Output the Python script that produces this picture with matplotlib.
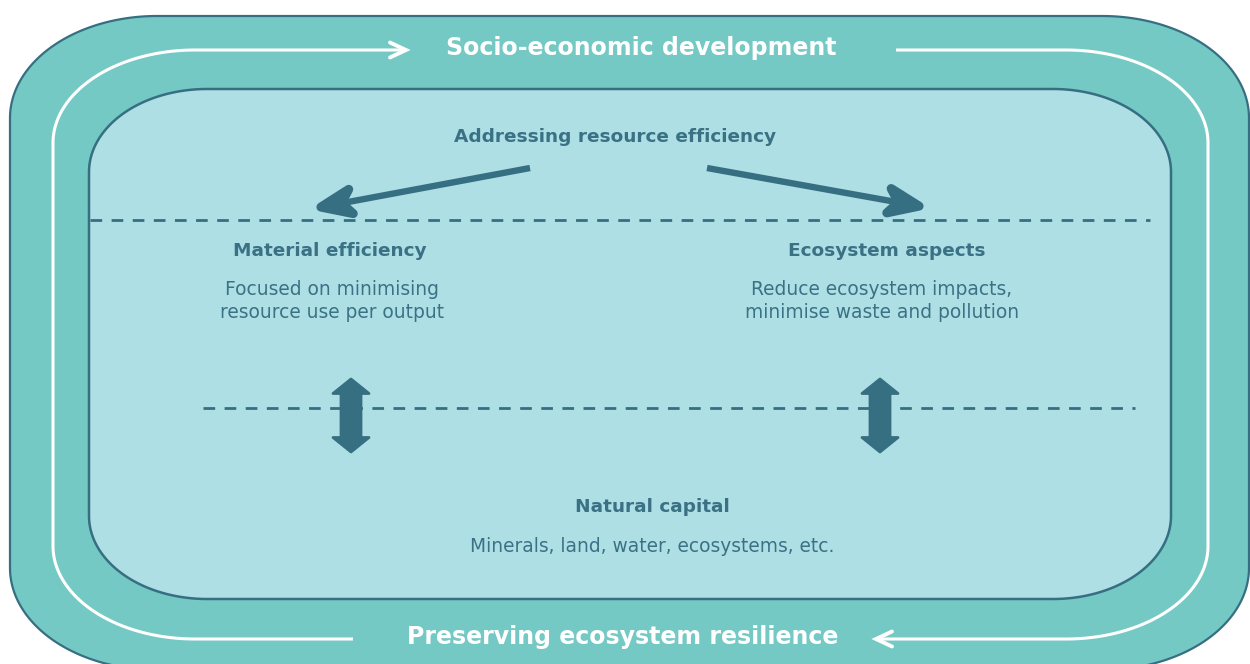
import numpy as np
import matplotlib.pyplot as plt
from matplotlib.patches import Polygon

# colours
OUTER = '#74c9c5'
INNER = '#aedfe5'
DARK = '#376f82'
TEXT = '#3a7184'

# texts of the diagram
flow_labels = ['Socio-economic development', 'Preserving ecosystem resilience']
top_label = 'Addressing resource efficiency'
branch_titles = ['Material efficiency', 'Ecosystem aspects']
branch_texts = ['Focused on minimising\nresource use per output',
                'Reduce ecosystem impacts,\nminimise waste and pollution']
base_title = 'Natural capital'
base_text = 'Minerals, land, water, ecosystems, etc.'


def corner_arcs(L, T, R, B, rx, ry, n=60):
    # four elliptic corners, clockwise on screen (y axis points down)
    s = np.linspace(0, np.pi / 2, n)
    tr = np.c_[R - rx + rx * np.sin(s), T + ry - ry * np.cos(s)]
    br = np.c_[R - rx + rx * np.cos(s), B - ry + ry * np.sin(s)]
    bl = np.c_[L + rx - rx * np.sin(s), B - ry + ry * np.cos(s)]
    tl = np.c_[L + rx - rx * np.cos(s), T + ry - ry * np.sin(s)]
    return tr, br, bl, tl


def rotate(v, deg):
    a = np.radians(deg)
    c, s = np.cos(a), np.sin(a)
    return np.array([c * v[0] - s * v[1], s * v[0] + c * v[1]])


def thick_arrow(ax, start, tip):
    start = np.asarray(start, float)
    tip = np.asarray(tip, float)
    u = (tip - start) / np.hypot(*(tip - start))
    back = -u
    t = tip + back * 5  # stroke sticks out past the polygon corner
    ax.plot([start[0], t[0] + back[0] * 15], [start[1], t[1] + back[1] * 15],
            color=DARK, lw=4.6, solid_capstyle='butt', zorder=5)
    head = [t, t + 33 * rotate(back, 22), t + 21 * back, t + 33 * rotate(back, -22)]
    ax.add_patch(Polygon(head, closed=True, facecolor=DARK, edgecolor=DARK,
                         lw=6.5, joinstyle='round', zorder=6))


def double_arrow(ax, x, top, bottom):
    hw, sw, hh = 18, 10, 14.5
    top, bottom = top + 1, bottom - 1
    pts = [(x, top), (x + hw, top + hh), (x + sw, top + hh),
           (x + sw, bottom - hh), (x + hw, bottom - hh), (x, bottom),
           (x - hw, bottom - hh), (x - sw, bottom - hh), (x - sw, top + hh),
           (x - hw, top + hh)]
    ax.add_patch(Polygon(pts, closed=True, facecolor=DARK, edgecolor=DARK,
                         lw=2, joinstyle='round', zorder=6))


fig = plt.figure(figsize=(12.5, 6.64), dpi=100)
ax = fig.add_axes([0, 0, 1, 1])
ax.set_xlim(0, 1250)
ax.set_ylim(664, 0)
ax.axis('off')

# outer band
outer = np.vstack(corner_arcs(10, 16, 1249, 670, 147, 102))
ax.add_patch(Polygon(outer, closed=True, facecolor=OUTER, edgecolor=DARK,
                     lw=1.6, zorder=1))

# inner panel
inner = np.vstack(corner_arcs(89, 89, 1171, 599, 118, 83))
ax.add_patch(Polygon(inner, closed=True, facecolor=INNER, edgecolor=DARK,
                     lw=1.8, zorder=2))

# white circulation line with two arrow heads
tr, br, bl, tl = corner_arcs(53, 50, 1208, 639, 142, 93)
right_part = np.vstack([[[896, 50]], tr, br, [[877, 639]]])
left_part = np.vstack([[[353, 639]], bl, tl, [[405, 50]]])
for part in (right_part, left_part):
    ax.plot(part[:, 0], part[:, 1], color='white', lw=2.2,
            solid_capstyle='butt', zorder=3)
ax.plot([390, 406, 390], [42.5, 50, 57.5], color='white', lw=2.8,
        solid_capstyle='round', solid_joinstyle='miter', zorder=3)
ax.plot([892, 876, 892], [631.5, 639, 646.5], color='white', lw=2.8,
        solid_capstyle='round', solid_joinstyle='miter', zorder=3)

# dashed separators
ax.plot([90, 1150], [220, 220], color=DARK, lw=2.0, ls=(0, (4.2, 3.4)), zorder=4)
ax.plot([203, 1135], [408, 408], color=DARK, lw=2.0, ls=(0, (4.2, 3.4)), zorder=4)

# arrows
thick_arrow(ax, (530, 168), (316, 208))
thick_arrow(ax, (707, 168), (924, 207))
double_arrow(ax, 351, 378, 453)
double_arrow(ax, 880, 378, 453)

# texts
ax.text(641, 48, flow_labels[0], color='white', fontsize=17, fontweight='bold',
        ha='center', va='center', zorder=7)
ax.text(623, 637, flow_labels[1], color='white', fontsize=17, fontweight='bold',
        ha='center', va='center', zorder=7)
ax.text(615, 137, top_label, color=TEXT, fontsize=13.3, fontweight='bold',
        ha='center', va='center', zorder=7)
for x, title in zip([330, 887], branch_titles):
    ax.text(x, 251, title, color=TEXT, fontsize=13.3, fontweight='bold',
            ha='center', va='center', zorder=7)
for x, body in zip([332, 882], branch_texts):
    ax.text(x, 301, body, color=TEXT, fontsize=13.4, ha='center', va='center',
            linespacing=1.25, zorder=7)
ax.text(652, 507, base_title, color=TEXT, fontsize=13.3, fontweight='bold',
        ha='center', va='center', zorder=7)
ax.text(652, 546, base_text, color=TEXT, fontsize=13.4, ha='center',
        va='center', zorder=7)

fig.savefig('out.png', dpi=100, facecolor='white')
